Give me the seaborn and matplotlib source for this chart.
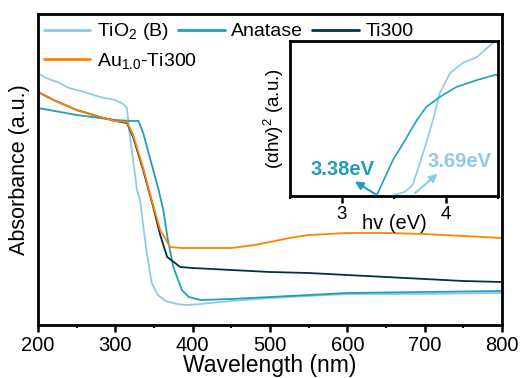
import numpy as np
import pandas as pd
import matplotlib
matplotlib.use("Agg")
import matplotlib.pyplot as plt
import seaborn as sns
from matplotlib.ticker import MultipleLocator

# absorbance spectra (arbitrary units)
wl_tib = [200, 210, 225, 240, 260, 280, 300, 310, 315, 319, 323, 328, 332, 340, 347, 355,
          365, 380, 392, 410, 450, 500, 550, 600, 700, 800]
abs_tib = [2.52, 2.47, 2.43, 2.37, 2.33, 2.28, 2.25, 2.21, 2.17, 1.88, 1.65, 1.35, 1.25, 0.75,
           0.42, 0.30, 0.24, 0.21, 0.20, 0.21, 0.24, 0.27, 0.29, 0.31, 0.31, 0.32]

wl_ana = [200, 250, 300, 320, 330, 336, 349, 356, 362, 368, 375, 386, 395, 410, 450, 500,
          550, 600, 700, 800]
abs_ana = [2.17, 2.10, 2.05, 2.04, 2.04, 1.92, 1.55, 1.35, 1.15, 0.85, 0.58, 0.35, 0.28,
           0.25, 0.26, 0.28, 0.30, 0.32, 0.33, 0.34]

wl_ti = [200, 220, 250, 280, 300, 315, 323, 336, 349, 358, 367, 384, 400, 450, 500, 550,
         600, 650, 700, 750, 800]
abs_ti = [2.33, 2.25, 2.15, 2.08, 2.04, 2.02, 1.88, 1.55, 1.18, 0.90, 0.68, 0.58, 0.57,
          0.55, 0.53, 0.52, 0.50, 0.48, 0.46, 0.44, 0.43]

wl_au = [200, 220, 250, 280, 300, 315, 323, 336, 347, 358, 371, 385, 450, 480, 500, 525,
         550, 600, 650, 700, 750, 800]
abs_au = [2.33, 2.25, 2.15, 2.08, 2.04, 2.03, 1.90, 1.57, 1.25, 0.95, 0.78, 0.77, 0.77,
          0.80, 0.83, 0.87, 0.90, 0.92, 0.92, 0.91, 0.89, 0.87]

# Tauc plot inset
ev_tib = [3.50, 3.60, 3.68, 3.78, 3.875, 3.94, 4.04, 4.16, 4.30, 4.45, 4.50]
tauc_tib = [0.01, 0.04, 0.11, 0.43, 0.76, 1.03, 1.23, 1.33, 1.39, 1.53, 1.55]
ev_ana = [3.34, 3.49, 3.59, 3.72, 3.81, 3.94, 4.10, 4.30, 4.47, 4.50]
tauc_ana = [0.02, 0.36, 0.53, 0.76, 0.89, 0.99, 1.09, 1.16, 1.21, 1.21]

labels = ["TiO$_2$ (B)", "Anatase", "Ti300", "Au$_{1.0}$-Ti300"]
colors = ["#8ECAE6", "#219EBC", "#023047", "#FB8500"]

sns.set_style("ticks")
plt.rcParams["font.family"] = ["Liberation Sans", "DejaVu Sans"]
plt.rcParams["mathtext.default"] = "regular"
plt.rcParams["axes.edgecolor"] = "black"
plt.rcParams["xtick.color"] = "black"
plt.rcParams["text.color"] = "black"
plt.rcParams["axes.labelcolor"] = "black"

fig = plt.figure(figsize=(5.27, 3.78), dpi=100)
ax = fig.add_axes([0.0721, 0.1402, 0.8805, 0.8228])

series = [(wl_tib, abs_tib), (wl_ana, abs_ana), (wl_ti, abs_ti), (wl_au, abs_au)]
for (x, y), lab, c in zip(series, labels, colors):
    sns.lineplot(x=x, y=y, ax=ax, color=c, lw=1.3, label=lab, sort=False)

ax.set_xlim(200, 800)
ax.set_ylim(0, 3.11)
ax.set_yticks([])
ax.xaxis.set_major_locator(MultipleLocator(100))
ax.xaxis.set_minor_locator(MultipleLocator(50))
ax.tick_params(axis="x", which="major", length=5, width=1.8, labelsize=14.5, pad=3,
               color="black", labelcolor="black")
ax.tick_params(axis="x", which="minor", length=2.5, width=1.5, color="black")
for s in ax.spines.values():
    s.set_linewidth(2)
    s.set_color("black")
ax.set_xlabel("Wavelength (nm)", fontsize=16.5, labelpad=-1)
ax.set_ylabel("Absorbance (a.u.)", fontsize=15.5, labelpad=6)

h, l = ax.get_legend_handles_labels()
leg1 = ax.legend(h[:3], l[:3], ncol=3, loc="upper left", bbox_to_anchor=(0.0, 0.995),
                 frameon=False, fontsize=14, handlelength=2.4, handletextpad=0.35,
                 columnspacing=0.45, borderaxespad=0.1, borderpad=0.2)
for line in leg1.get_lines():
    line.set_linewidth(2)
ax.add_artist(leg1)
leg2 = ax.legend(h[3:], l[3:], loc="upper left", bbox_to_anchor=(0.0, 0.90),
                 frameon=False, fontsize=14, handlelength=2.4, handletextpad=0.35,
                 borderaxespad=0.1, borderpad=0.2)
for line in leg2.get_lines():
    line.set_linewidth(2)

# inset
ins = fig.add_axes([0.5503, 0.4815, 0.3947, 0.4101])
sns.lineplot(x=ev_tib, y=tauc_tib, ax=ins, color=colors[0], lw=1.2, sort=False)
sns.lineplot(x=ev_ana, y=tauc_ana, ax=ins, color=colors[1], lw=1.2, sort=False)
ins.set_xlim(2.5, 4.5)
ins.set_ylim(0, 1.55)
ins.set_yticks([])
ins.xaxis.set_major_locator(MultipleLocator(1))
ins.xaxis.set_minor_locator(MultipleLocator(0.5))
ins.tick_params(axis="x", which="major", length=5, width=1.8, labelsize=13.5, pad=2,
                color="black", labelcolor="black")
ins.tick_params(axis="x", which="minor", length=2.5, width=1.5, color="black")
for s in ins.spines.values():
    s.set_linewidth(2)
    s.set_color("black")
ins.set_xlabel("hv (eV)", fontsize=14.5, labelpad=-6)
ins.set_ylabel("(αhv)$^2$ (a.u.)", fontsize=13.5, labelpad=3)

ins.annotate("", xy=(3.10, 0.16), xytext=(3.35, 0.0),
             arrowprops=dict(arrowstyle="-|>", color=colors[1], lw=1.5, mutation_scale=12))
ins.annotate("", xy=(3.94, 0.24), xytext=(3.68, 0.01),
             arrowprops=dict(arrowstyle="-|>", color=colors[0], lw=1.5, mutation_scale=12))
ins.text(3.0, 0.26, "3.38eV", color=colors[1], fontsize=14.5, fontweight="bold",
         ha="center", va="center")
ins.text(4.13, 0.34, "3.69eV", color=colors[0], fontsize=14.5, fontweight="bold",
         ha="center", va="center")

fig.savefig("out.png", dpi=100)
